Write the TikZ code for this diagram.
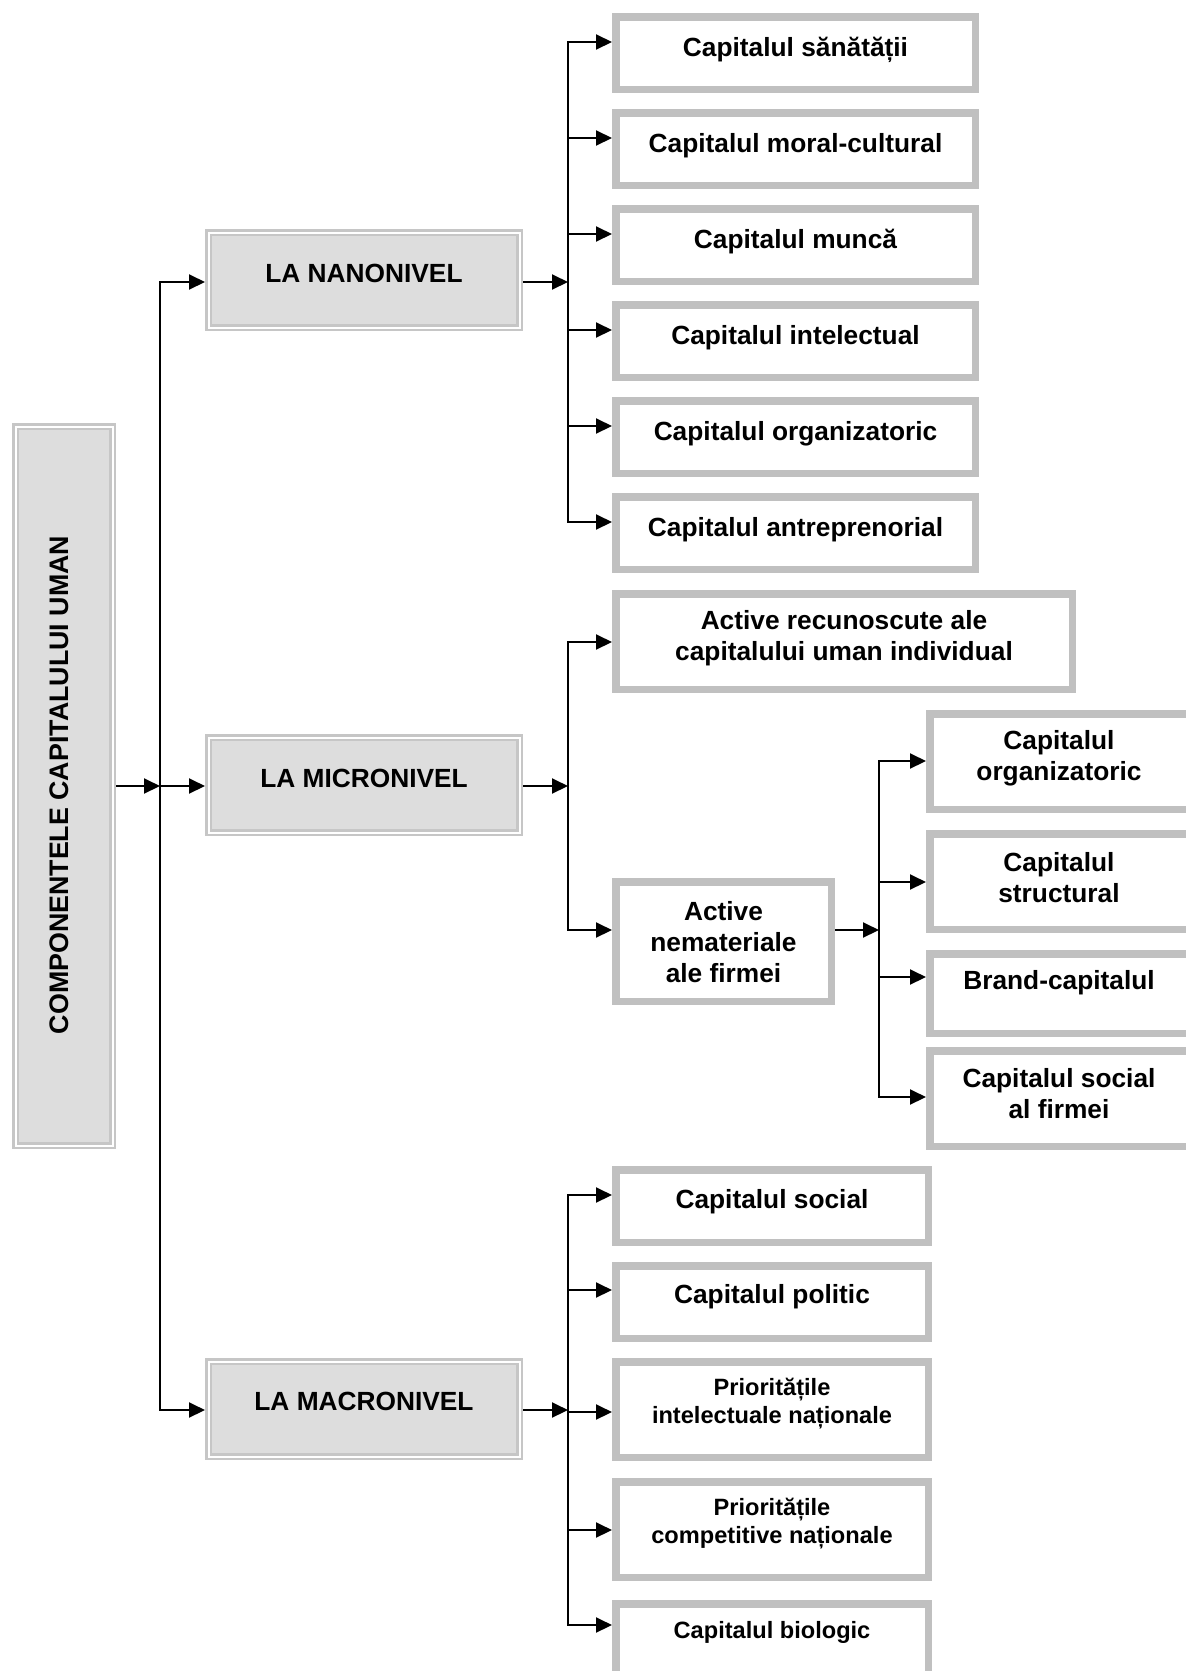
\documentclass[tikz,border=0pt]{standalone}
\usepackage{fontspec}
\setmainfont{Liberation Sans}
\usetikzlibrary{arrows.meta}
\definecolor{bgray}{RGB}{192,192,192}
\definecolor{lgray}{RGB}{198,198,198}
\definecolor{fgray}{RGB}{221,221,221}
\begin{document}
\begin{tikzpicture}[x=1pt,y=-1pt,
  cbox/.style={draw=bgray,line width=7.5pt,fill=white,inner sep=0pt,outer sep=3.75pt},
  lbox/.style={draw=lgray,double=white,double distance=2pt,line width=2.5pt,fill=fgray,inner sep=0pt,outer sep=3.5pt},
  txt/.style={font=\bfseries\fontsize{26.3}{31}\selectfont,align=center,inner sep=0pt},
  mtxt/.style={font=\bfseries\fontsize{26.8}{31}\selectfont,align=center,inner sep=0pt},
  stxt/.style={font=\bfseries\fontsize{23.6}{28}\selectfont,align=center,inner sep=0pt},
  arr/.style={line width=2pt,-{Triangle[length=16pt,width=15pt]}},
  ln/.style={line width=2pt}
]
\useasboundingbox (0,0) rectangle (1186,1671);
\clip (0,0) rectangle (1186,1671);

% main box
\node[lbox,minimum width=97pt,minimum height=719pt] (main) at (64,786) {};
\node[mtxt,rotate=90] (maint) at (59,785) {COMPONENTELE CAPITALULUI UMAN};

% level boxes
\node[lbox,minimum width=311pt,minimum height=95pt] (nano) at (364,280) {};
\node[txt] (nanot) at (364,273) {LA NANONIVEL};
\node[lbox,minimum width=311pt,minimum height=95pt] (micro) at (364,785) {};
\node[txt] (microt) at (364,778) {LA MICRONIVEL};
\node[lbox,minimum width=311pt,minimum height=95pt] (macro) at (364,1409) {};
\node[txt] (macrot) at (364,1401) {LA MACRONIVEL};

% trunk
\coordinate (t1) at (160,282);
\coordinate (t2) at (160,786);
\coordinate (t3) at (160,1410);
\draw[arr] (main.east |- t2) -- (t2);
\draw[arr] (t2) |- (nano.west |- t1);
\draw[arr] (t2) -- (micro.west |- t2);
\draw[arr] (t2) |- (macro.west |- t3);

% nano children
\node[cbox,minimum width=359.5pt,minimum height=72.5pt] (n1) at (795.5,53) {};
\node[txt] (n1t) at (795.5,50) {Capitalul sănătății};
\node[cbox,minimum width=359.5pt,minimum height=72.5pt] (n2) at (795.5,149) {};
\node[txt] (n2t) at (795.5,146) {Capitalul moral-cultural};
\node[cbox,minimum width=359.5pt,minimum height=72.5pt] (n3) at (795.5,245) {};
\node[txt] (n3t) at (795.5,242) {Capitalul muncă};
\node[cbox,minimum width=359.5pt,minimum height=72.5pt] (n4) at (795.5,341) {};
\node[txt] (n4t) at (795.5,338) {Capitalul intelectual};
\node[cbox,minimum width=359.5pt,minimum height=72.5pt] (n5) at (795.5,437) {};
\node[txt] (n5t) at (795.5,434) {Capitalul organizatoric};
\node[cbox,minimum width=359.5pt,minimum height=72.5pt] (n6) at (795.5,533) {};
\node[txt] (n6t) at (795.5,530) {Capitalul antreprenorial};

\coordinate (nb) at (568,282);
\coordinate (nb1) at (568,42);
\coordinate (nb2) at (568,138);
\coordinate (nb3) at (568,234);
\coordinate (nb4) at (568,330);
\coordinate (nb5) at (568,426);
\coordinate (nb6) at (568,522);
\draw[arr] (nano.east |- nb) -- (nb);
\draw[arr] (nb) |- (n1.west |- nb1);
\draw[arr] (nb) |- (n2.west |- nb2);
\draw[arr] (nb) |- (n3.west |- nb3);
\draw[arr] (nb) |- (n4.west |- nb4);
\draw[arr] (nb) |- (n5.west |- nb5);
\draw[arr] (nb) |- (n6.west |- nb6);

% micro children
\node[cbox,minimum width=456.5pt,minimum height=95.5pt] (ar) at (844,641.5) {};
\node[txt] (art) at (844,638.5) {Active recunoscute ale\\capitalului uman individual};
\node[cbox,minimum width=215.5pt,minimum height=119.5pt] (an) at (723.5,941.5) {};
\node[txt] (ant) at (723.5,942) {Active\\nemateriale\\ale firmei};

\coordinate (mb) at (568,786);
\coordinate (mb1) at (568,642);
\coordinate (mb2) at (568,930);
\draw[arr] (micro.east |- mb) -- (mb);
\draw[arr] (mb) |- (ar.west |- mb1);
\draw[arr] (mb) |- (an.west |- mb2);

\node[cbox,minimum width=266.5pt,minimum height=95.5pt] (fo) at (1063,761.5) {};
\node[txt] (fot) at (1059,758) {Capitalul\\organizatoric};
\node[cbox,minimum width=266.5pt,minimum height=95.5pt] (fs) at (1063,881.5) {};
\node[txt] (fst) at (1059,878) {Capitalul\\structural};
\node[cbox,minimum width=266.5pt,minimum height=79.5pt] (fb) at (1063,993.5) {};
\node[txt] (fbt) at (1059,983) {Brand-capitalul};
\node[cbox,minimum width=266.5pt,minimum height=95.5pt] (fc) at (1063,1098.5) {};
\node[txt] (fct) at (1059,1094) {Capitalul social\\al firmei};

\coordinate (sb) at (879,930);
\coordinate (sb1) at (879,761);
\coordinate (sb2) at (879,882);
\coordinate (sb3) at (879,977);
\coordinate (sb4) at (879,1097);
\draw[arr] (an.east |- sb) -- (sb);
\draw[arr] (sb) |- (fo.west |- sb1);
\draw[arr] (sb) |- (fs.west |- sb2);
\draw[arr] (sb) |- (fb.west |- sb3);
\draw[arr] (sb) |- (fc.west |- sb4);

% macro children
\node[cbox,minimum width=312.5pt,minimum height=72.5pt] (m1) at (772,1206) {};
\node[txt] (m1t) at (772,1202) {Capitalul social};
\node[cbox,minimum width=312.5pt,minimum height=72.5pt] (m2) at (772,1302) {};
\node[txt] (m2t) at (772,1297) {Capitalul politic};
\node[cbox,minimum width=312.5pt,minimum height=95.5pt] (m3) at (772,1409.5) {};
\node[stxt] (m3t) at (772,1404) {Prioritățile\\intelectuale naționale};
\node[cbox,minimum width=312.5pt,minimum height=95.5pt] (m4) at (772,1529.5) {};
\node[stxt] (m4t) at (772,1524) {Prioritățile\\competitive naționale};
\node[cbox,minimum width=312.5pt,minimum height=72.5pt] (m5) at (772,1640) {};
\node[stxt] (m5t) at (772,1632) {Capitalul biologic};

\coordinate (cb) at (568,1410);
\coordinate (cb1) at (568,1195);
\coordinate (cb2) at (568,1290);
\coordinate (cb3) at (568,1412);
\coordinate (cb4) at (568,1530);
\coordinate (cb5) at (568,1625);
\draw[arr] (macro.east |- cb) -- (cb);
\draw[arr] (cb) |- (m1.west |- cb1);
\draw[arr] (cb) |- (m2.west |- cb2);
\draw[arr] (cb) |- (m3.west |- cb3);
\draw[arr] (cb) |- (m4.west |- cb4);
\draw[arr] (cb) |- (m5.west |- cb5);
\end{tikzpicture}
\end{document}
